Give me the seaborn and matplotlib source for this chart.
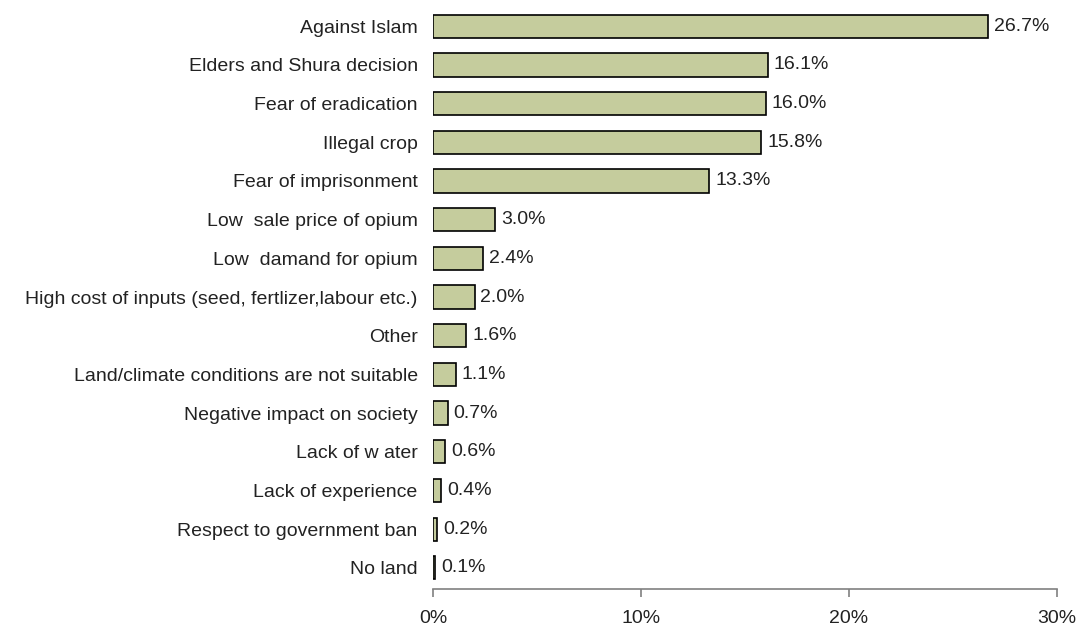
import matplotlib.pyplot as plt
import pandas as pd
import seaborn as sns
from matplotlib.ticker import FuncFormatter

# === DATA === #
reasons = [
    "Against Islam",
    "Elders and Shura decision",
    "Fear of eradication",
    "Illegal crop",
    "Fear of imprisonment",
    "Low  sale price of opium",
    "Low  damand for opium",
    "High cost of inputs (seed, fertlizer,labour etc.)",
    "Other",
    "Land/climate conditions are not suitable",
    "Negative impact on society",
    "Lack of w ater",
    "Lack of experience",
    "Respect to government ban",
    "No land",
]
shares = [26.7, 16.1, 16.0, 15.8, 13.3, 3.0, 2.4, 2.0, 1.6, 1.1, 0.7, 0.6, 0.4, 0.2, 0.1]
x_ticks = [0, 10, 20, 30]

# === SETUP === #
sns.set_theme(style="white")
plt.rcParams["font.family"] = ["Liberation Sans", "DejaVu Sans"]
FS = 14

df = pd.DataFrame({"reason": reasons, "share": shares})

fig = plt.figure(figsize=(10.77, 6.26), dpi=100)
ax = fig.add_axes([0.402, 0.059, 0.579, 0.930])

sns.barplot(
    data=df,
    x="share",
    y="reason",
    orient="h",
    color="#c5cc9d",
    saturation=1,
    edgecolor="black",
    linewidth=1.2,
    width=0.6,
    ax=ax,
)

for i, v in enumerate(shares):
    ax.text(v + 0.28, i, f"{v:.1f}%", va="center", ha="left", fontsize=FS, color="#222222")

ax.set_xlim(0, 30)
ax.set_ylim(14.55, -0.5)
ax.set_xticks(x_ticks)
ax.xaxis.set_major_formatter(FuncFormatter(lambda v, _: f"{v:.0f}%"))
ax.set_xlabel("")
ax.set_ylabel("")

for side in ["top", "right", "left"]:
    ax.spines[side].set_visible(False)
ax.spines["bottom"].set_color("#808080")
ax.spines["bottom"].set_linewidth(1.2)

ax.tick_params(axis="x", bottom=True, direction="out", length=6, width=1.2, color="#808080",
               pad=9, labelsize=FS, labelcolor="#222222")
ax.tick_params(axis="y", left=False, length=0, pad=11, labelsize=FS, labelcolor="#222222")

plt.savefig("out.png", dpi=100)
plt.close()
